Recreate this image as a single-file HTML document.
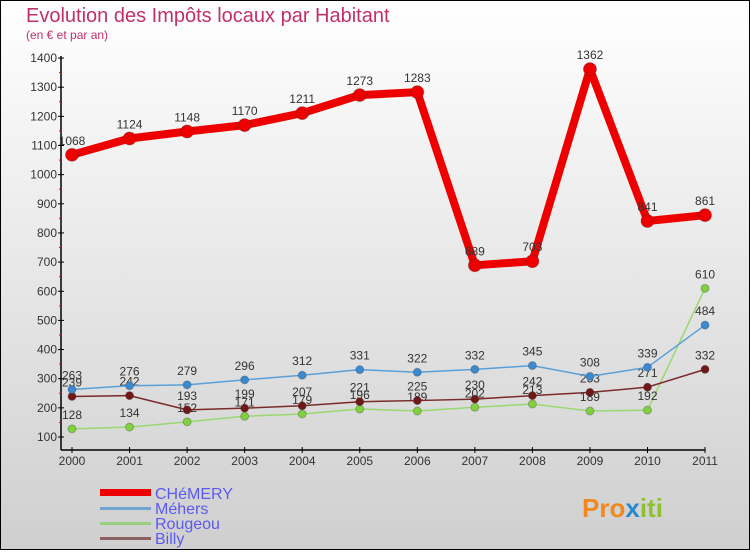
<!DOCTYPE html>
<html><head><meta charset="utf-8"><style>
body{margin:0;width:750px;height:550px;overflow:hidden;font-family:"Liberation Sans",sans-serif}
</style></head><body>
<svg id="c" width="750" height="550" xmlns="http://www.w3.org/2000/svg">
<defs>
<linearGradient id="bg" x1="0" y1="0" x2="0" y2="1"><stop offset="0" stop-color="#ffffff"/><stop offset="1" stop-color="#cfcfcf"/></linearGradient>
</defs>
<rect x="0.5" y="0.5" width="749" height="549" fill="url(#bg)" stroke="#000"/>
<text x="26" y="22" font-size="20" fill="#c0306a">Evolution des Impôts locaux par Habitant</text>
<text x="26" y="39" font-size="12" fill="#c0306a">(en € et par an)</text>
<g id="axes"></g>
<g id="series"></g>
<g>
<rect x="100" y="489" width="51" height="7" fill="#ee0000"/>
<text x="155" y="499" font-size="16" fill="#5a5af0">CHéMERY</text>
<rect x="100" y="507" width="51" height="3" fill="#6fa3d0"/>
<text x="155" y="514" font-size="16" fill="#5a5af0">Méhers</text>
<rect x="100" y="522" width="51" height="3" fill="#99d080"/>
<text x="155" y="529" font-size="16" fill="#5a5af0">Rougeou</text>
<rect x="100" y="537" width="51" height="3" fill="#8a6060"/>
<text x="155" y="544" font-size="16" fill="#5a5af0">Billy</text>
</g>
<text x="582" y="517" font-size="26" font-weight="bold" fill="#f08a20">Pro<tspan fill="#2a8ad0">x</tspan><tspan fill="#90c030">iti</tspan></text>
</svg>
<script>
const years=["2000","2001","2002","2003","2004","2005","2006","2007","2008","2009","2010","2011"];
const yTicks=[100,200,300,400,500,600,700,800,900,1000,1100,1200,1300,1400];
const chemery=[1068,1124,1148,1170,1211,1273,1283,689,703,1362,841,861];
const mehers=[263,276,279,296,312,331,322,332,345,308,339,484];
const rougeou=[128,134,152,171,179,196,189,202,213,189,192,610];
const billy=[239,242,193,199,207,221,225,230,242,253,271,332];
const NS="http://www.w3.org/2000/svg";
const xs=i=>72+i*57.55;
const ys=v=>437-(v-100)*29.15/100;
function mk(t,a,p){const e=document.createElementNS(NS,t);for(const k in a)e.setAttribute(k,a[k]);p.appendChild(e);return e;}
const ax=document.getElementById('axes');
const yl=mk('line',{x1:61,y1:56,x2:61,y2:450,stroke:'#000','stroke-width':1.5},ax);


const xl=mk('line',{x1:61,y1:450,x2:705,y2:450,stroke:'#000','stroke-width':1.5},ax);


yTicks.forEach((v,i)=>{const y=ys(v);
 mk('line',{x1:58,y1:y,x2:64,y2:y,stroke:'#000'},ax);
 if(i<yTicks.length-1) mk('line',{x1:59,y1:ys(v+50),x2:62,y2:ys(v+50),stroke:'#e00'},ax);
 const t=mk('text',{x:57,y:y+4,'font-size':12,fill:'#333','text-anchor':'end'},ax);t.textContent=v;
 
 
});
years.forEach((yr,i)=>{const x=xs(i);
 mk('line',{x1:x,y1:447,x2:x,y2:453,stroke:'#000'},ax);
 const t=mk('text',{x:x,y:465,'font-size':12,fill:'#333','text-anchor':'middle'},ax);t.textContent=yr;
 
 
});
const sg=document.getElementById('series');
function series(name,data,color,w,r,fill){
 const g=mk('g',{},sg);
 
 
 const pl=mk('polyline',{points:data.map((v,i)=>xs(i)+','+ys(v)).join(' '),fill:'none',stroke:color,'stroke-width':w,'stroke-linejoin':'round'},g);
 
 
 data.forEach((v,i)=>{
  const c=mk('circle',{cx:xs(i),cy:ys(v),r:r,fill:fill,stroke:'#333','stroke-opacity':0.3},g);
  
  
  const t=mk('text',{x:xs(i),y:ys(v)-10,'font-size':12,fill:'#333','text-anchor':'middle'},g);t.textContent=v;
  
  
 });
}
series('rougeou',rougeou,'#99d870',1.5,4,'#80d040');
series('billy',billy,'#7a2a2a',1.5,4,'#701818');
series('mehers',mehers,'#5aa0d8',1.5,4,'#3a8ad0');
series('chemery',chemery,'#ee0000',8,6.5,'#ee0000');
</script>
</body></html>
